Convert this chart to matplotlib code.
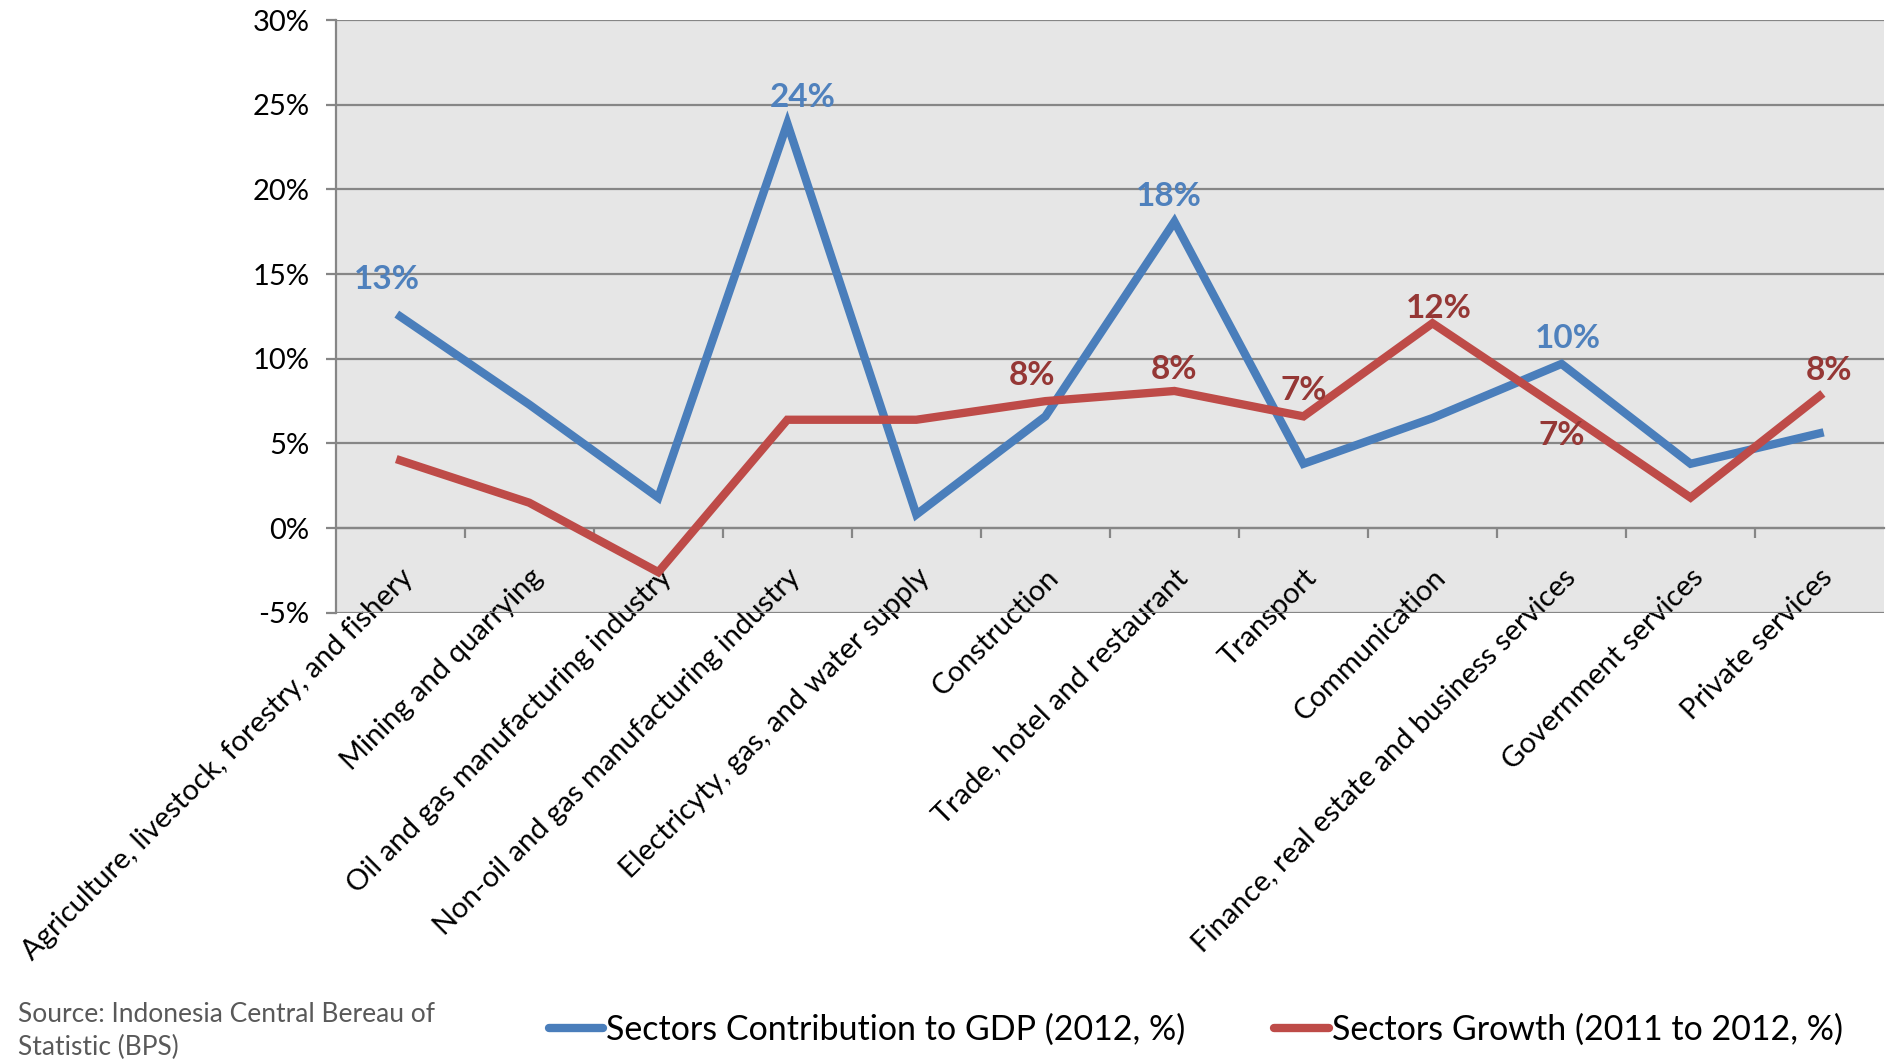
import numpy as np
import matplotlib.pyplot as plt
from matplotlib.lines import Line2D
from matplotlib.ticker import PercentFormatter

plt.rcParams['font.family'] = ['Lato', 'DejaVu Sans']
plt.rcParams['axes.unicode_minus'] = False

# categorie (settori)
sectors = [
    'Agriculture, livestock, forestry, and fishery',
    'Mining and quarrying',
    'Oil and gas manufacturing industry',
    'Non-oil and gas manufacturing industry',
    'Electricyty, gas, and water supply',
    'Construction',
    'Trade, hotel and restaurant',
    'Transport',
    'Communication',
    'Finance, real estate and business services',
    'Government services',
    'Private services',
]

# valori (%)
gdp_share = [12.5, 7.3, 1.8, 23.9, 0.8, 6.6, 18.1, 3.8, 6.5, 9.7, 3.8, 5.6]
growth = [4.0, 1.5, -2.6, 6.4, 6.4, 7.5, 8.1, 6.6, 12.1, 7.0, 1.8, 7.8]

# etichette dei dati: (indice, testo)
gdp_labels = [(0, '13%'), (3, '24%'), (6, '18%'), (9, '10%')]
growth_labels = [(5, '8%'), (6, '8%'), (7, '7%'), (8, '12%'), (9, '7%'), (11, '8%')]

blue = '#4A7EBB'
red = '#BE4B48'
blue_txt = '#4F81BD'
red_txt = '#953735'
grid_col = '#868686'

fig = plt.figure(figsize=(18.86, 10.62), dpi=100)
ax = fig.add_axes([0.178, 0.423, 0.821, 0.558])
ax.set_facecolor('#E6E6E6')

x = np.arange(len(sectors))
ax.plot(x, gdp_share, color=blue, lw=6, solid_joinstyle='miter', zorder=3)
ax.plot(x, growth, color=red, lw=6, solid_joinstyle='miter', zorder=4)

ax.set_xlim(-0.5, len(sectors) - 0.5)
ax.set_ylim(-5, 30)
ax.set_yticks(np.arange(-5, 31, 5))
ax.yaxis.set_major_formatter(PercentFormatter(decimals=0))
ax.grid(axis='y', color=grid_col, lw=1.6, zorder=1)

# asse delle categorie sullo zero
ax.spines['bottom'].set_position(('data', 0))
ax.spines['bottom'].set_color(grid_col)
ax.spines['bottom'].set_linewidth(1.6)
ax.spines['left'].set_color(grid_col)
ax.spines['left'].set_linewidth(1.6)
ax.spines['top'].set_visible(False)
ax.spines['right'].set_visible(False)

ax.set_xticks(x)
ax.set_xticklabels(sectors, rotation=45, ha='right', rotation_mode='anchor', fontsize=21)
ax.set_xticks(np.arange(0.5, len(sectors) - 0.5, 1), minor=True)
ax.tick_params(axis='x', which='major', length=0, pad=26)
ax.tick_params(axis='x', which='minor', length=7, width=1.6, color=grid_col)
ax.tick_params(axis='y', length=7, width=1.6, color=grid_col, labelsize=21, pad=12)

dx = {0: -0.1, 3: 0.12, 6: -0.04, 9: 0.05}
dy = {0: 8}
for i, t in gdp_labels:
    ax.annotate(t, (i + dx.get(i, 0), gdp_share[i]), xytext=(0, 8 + dy.get(i, 0)), textcoords='offset points',
                ha='center', va='bottom', color=blue_txt, fontsize=24, fontweight='bold', zorder=5)

dxr = {5: -0.1, 8: 0.05, 11: 0.07}
dyr = {8: -8, 6: -3}
for i, t in growth_labels:
    if i == 9:
        off, va = (0, -8), 'top'
    else:
        off, va = (0, 8 + dyr.get(i, 0)), 'bottom'
    ax.annotate(t, (i + dxr.get(i, 0), growth[i]), xytext=off, textcoords='offset points',
                ha='center', va=va, color=red_txt, fontsize=24, fontweight='bold', zorder=5)

handles = [Line2D([], [], color=blue, lw=6, solid_capstyle='round'),
           Line2D([], [], color=red, lw=6, solid_capstyle='round')]
fig.legend(handles, ['Sectors Contribution to GDP (2012, %)', 'Sectors Growth (2011 to 2012, %)'],
           loc='center', bbox_to_anchor=(0.634, 0.03), ncol=2, frameon=False,
           fontsize=24.5, handlelength=1.6, handletextpad=0.1, columnspacing=2.6)

fig.text(0.0095, 0.029, 'Source: Indonesia Central Bereau of\nStatistic (BPS)', fontsize=19,
         color='#595959', ha='left', va='center', linespacing=1.4)

fig.savefig('out.png', dpi=100)
